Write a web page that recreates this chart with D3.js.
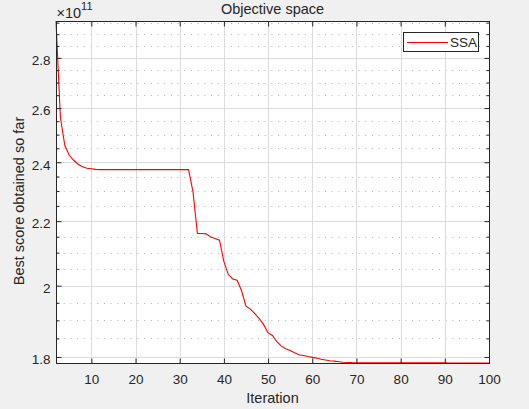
<!DOCTYPE html>
<html lang="en">
<head>
    <meta charset="UTF-8">
    <title>Objective space</title>
</head>
<style>
    body {
        margin: 0;
        background-color: #f0f0f0;
    }

    text {
        font-family: "Liberation Sans", Arial, Helvetica, sans-serif;
        fill: #262626;
    }

    .grid-major {
        stroke: #dcdcdc;
        stroke-width: 1px;
    }

    .grid-minor {
        stroke: #b0b0b0;
        stroke-width: 1px;
        stroke-dasharray: 1, 5.7;
    }
</style>
<body>
<script src='https://d3js.org/d3.v7.min.js'></script>
<script>
    const width = 529, height = 409;
    const plotLeft = 56, plotRight = 489, plotTop = 21, plotBottom = 363;

    // iterations 2..100, best score in units of 1e11
    const iterations = d3.range(2, 101);
    const bestScore = [
        2.957, 2.563, 2.460, 2.425, 2.407, 2.393, 2.384, 2.379, 2.377, 2.375,
        2.374, 2.374, 2.374, 2.374, 2.374, 2.374, 2.374, 2.374, 2.374, 2.374,
        2.374, 2.374, 2.374, 2.374, 2.374, 2.374, 2.374, 2.374, 2.374, 2.374,
        2.374, 2.298, 2.160, 2.160, 2.159, 2.149, 2.144, 2.139, 2.072, 2.033,
        2.020, 2.016, 1.985, 1.940, 1.932, 1.919, 1.905, 1.888, 1.865, 1.858,
        1.841, 1.829, 1.822, 1.817, 1.811, 1.806, 1.804, 1.801, 1.799, 1.797,
        1.794, 1.792, 1.790, 1.789, 1.7875, 1.786, 1.7855, 1.785, 1.7848, 1.7848,
        1.7848, 1.7845, 1.7845, 1.7845, 1.7845, 1.7845, 1.7845, 1.7845, 1.7845, 1.7842,
        1.7842, 1.7842, 1.7842, 1.7842, 1.7842, 1.7842, 1.7842, 1.7842, 1.7842, 1.784,
        1.784, 1.784, 1.784, 1.784, 1.784, 1.784, 1.784, 1.784, 1.784
    ];
    const xTicks = [10, 20, 30, 40, 50, 60, 70, 80, 90, 100];
    const yTicks = [1.8, 2, 2.2, 2.4, 2.6, 2.8];
    const yMinorTicks = [1.85, 1.9, 1.95, 2.05, 2.1, 2.15, 2.25, 2.3, 2.35, 2.45,
        2.5, 2.55, 2.65, 2.7, 2.75, 2.85, 2.9, 2.95];

    const data = iterations.map(function (it, i) {
        return {x: it, y: bestScore[i]};
    });

    const x = d3.scaleLinear()
        .domain(d3.extent(iterations))
        .range([plotLeft, plotRight]);
    const y = d3.scaleLog()
        .domain(d3.extent(bestScore))
        .range([plotBottom, plotTop]);

    const svg = d3.select("body")
        .append("svg")
        .attr("width", width)
        .attr("height", height);

    svg.append("rect")
        .attr("x", plotLeft)
        .attr("y", plotTop)
        .attr("width", plotRight - plotLeft)
        .attr("height", plotBottom - plotTop)
        .attr("fill", "#fff");

    const minorIn = yMinorTicks.filter(function (d) {
        return d > y.domain()[0] && d < y.domain()[1];
    });

    // grid
    const grid = svg.append("g");
    grid.selectAll("line.grid-minor")
        .data(minorIn)
        .enter().append("line")
        .attr("class", "grid-minor")
        .attr("x1", plotLeft + 1)
        .attr("x2", plotRight)
        .attr("y1", function (d) {
            return Math.round(y(d)) + 0.5;
        })
        .attr("y2", function (d) {
            return Math.round(y(d)) + 0.5;
        });
    grid.selectAll("line.gy")
        .data(yTicks)
        .enter().append("line")
        .attr("class", "grid-major gy")
        .attr("x1", plotLeft)
        .attr("x2", plotRight)
        .attr("y1", function (d) {
            return Math.round(y(d)) + 0.5;
        })
        .attr("y2", function (d) {
            return Math.round(y(d)) + 0.5;
        });
    grid.selectAll("line.gx")
        .data(xTicks)
        .enter().append("line")
        .attr("class", "grid-major gx")
        .attr("y1", plotTop)
        .attr("y2", plotBottom)
        .attr("x1", function (d) {
            return Math.round(x(d)) + 0.5;
        })
        .attr("x2", function (d) {
            return Math.round(x(d)) + 0.5;
        });

    // curve
    svg.append("path")
        .datum(data)
        .attr("fill", "none")
        .attr("stroke", "#ff0000")
        .attr("stroke-width", 1.1)
        .attr("d", d3.line()
            .x(function (d) {
                return x(d.x);
            })
            .y(function (d) {
                return y(d.y);
            }));

    // axes (box with inward ticks on all four sides)
    const fmt = d3.format("");
    const axisColor = "#262626";

    function styleAxis(g) {
        g.select(".domain").remove();
        g.selectAll(".tick line").attr("stroke", axisColor);
        g.selectAll(".tick text")
            .style("font-size", "13.5px")
            .attr("fill", axisColor);
    }

    svg.append("g")
        .attr("transform", "translate(0," + (plotBottom + 0.5) + ")")
        .call(d3.axisBottom(x).tickValues(xTicks).tickSize(-5).tickPadding(11).tickFormat(fmt))
        .call(styleAxis);
    svg.append("g")
        .attr("transform", "translate(0," + (plotTop + 0.5) + ")")
        .call(d3.axisTop(x).tickValues(xTicks).tickSize(-5).tickFormat(""))
        .call(styleAxis);
    svg.append("g")
        .attr("transform", "translate(" + (plotLeft + 0.5) + ",0)")
        .call(d3.axisLeft(y).tickValues(yTicks).tickSize(-5).tickPadding(6).tickFormat(fmt))
        .call(styleAxis)
        .selectAll(".tick text").attr("dy", "0.5em");
    svg.append("g")
        .attr("transform", "translate(" + (plotRight + 0.5) + ",0)")
        .call(d3.axisRight(y).tickValues(yTicks).tickSize(-5).tickFormat(""))
        .call(styleAxis);
    svg.append("g")
        .attr("transform", "translate(" + (plotLeft + 0.5) + ",0)")
        .call(d3.axisLeft(y).tickValues(minorIn).tickSize(-3).tickFormat(""))
        .call(styleAxis);
    svg.append("g")
        .attr("transform", "translate(" + (plotRight + 0.5) + ",0)")
        .call(d3.axisRight(y).tickValues(minorIn).tickSize(-3).tickFormat(""))
        .call(styleAxis);

    svg.append("rect")
        .attr("x", plotLeft + 0.5)
        .attr("y", plotTop + 0.5)
        .attr("width", plotRight - plotLeft)
        .attr("height", plotBottom - plotTop)
        .attr("fill", "none")
        .attr("stroke", axisColor)
        .attr("stroke-width", 1);

    // exponent label
    const expo = svg.append("text")
        .attr("x", plotLeft + 0.5)
        .attr("y", 17.5)
        .style("font-size", "14.5px");
    expo.append("tspan").text("\u00d710");
    expo.append("tspan")
        .attr("dy", -7.5)
        .style("font-size", "11px")
        .text("11");

    // title and labels
    svg.append("text")
        .attr("x", (plotLeft + plotRight) / 2)
        .attr("y", 14)
        .attr("text-anchor", "middle")
        .style("font-size", "14.5px")
        .text("Objective space");

    svg.append("text")
        .attr("x", (plotLeft + plotRight) / 2)
        .attr("y", 403)
        .attr("text-anchor", "middle")
        .style("font-size", "14.5px")
        .text("Iteration");

    svg.append("text")
        .attr("transform", "translate(23.5,201) rotate(-90)")
        .attr("text-anchor", "middle")
        .style("font-size", "14.5px")
        .text("Best score obtained so far");

    // legend
    const legend = svg.append("g");
    legend.append("rect")
        .attr("x", 403.5)
        .attr("y", 32.5)
        .attr("width", 75)
        .attr("height", 19)
        .attr("fill", "#fff")
        .attr("stroke", axisColor);
    legend.append("line")
        .attr("x1", 407)
        .attr("x2", 448)
        .attr("y1", 42.5)
        .attr("y2", 42.5)
        .attr("stroke", "#ff0000")
        .attr("stroke-width", 1.1);
    legend.append("text")
        .attr("x", 450)
        .attr("y", 47)
        .style("font-size", "13.5px")
        .text("SSA");
</script>
</body>
</html>
